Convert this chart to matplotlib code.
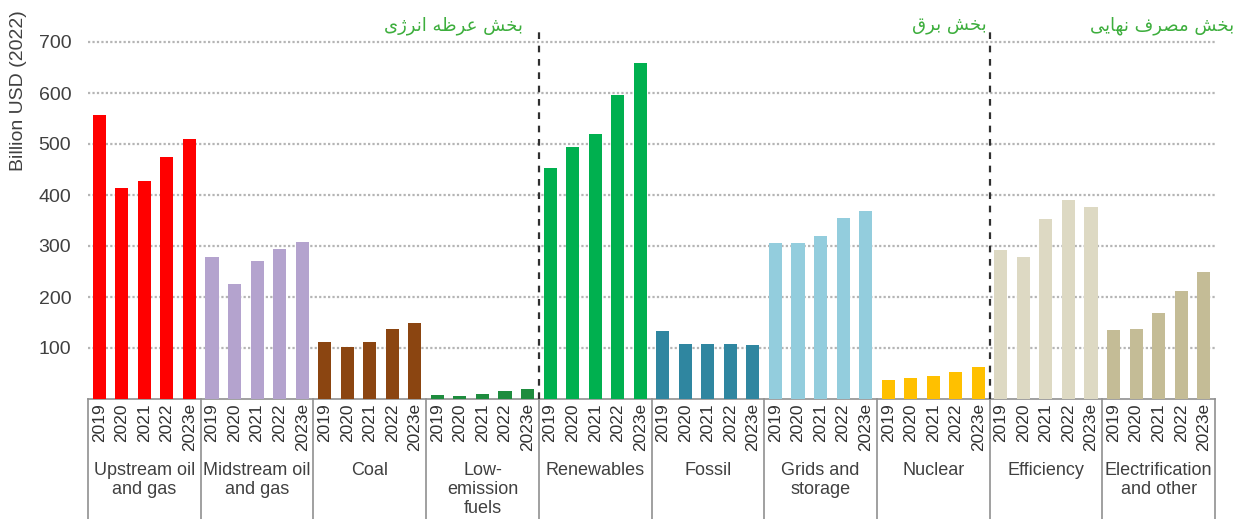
import matplotlib
matplotlib.use("Agg")
import matplotlib.pyplot as plt
from matplotlib.transforms import blended_transform_factory
from matplotlib.lines import Line2D

# investment by segment, billion USD (2022)
years = ["2019", "2020", "2021", "2022", "2023e"]
groups = ["Upstream oil\nand gas", "Midstream oil\nand gas", "Coal", "Low-\nemission\nfuels",
          "Renewables", "Fossil", "Grids and\nstorage", "Nuclear", "Efficiency",
          "Electrification\nand other"]
upstream = [556, 413, 428, 475, 509]
midstream = [279, 226, 271, 295, 308]
coal = [112, 102, 112, 137, 149]
low_emission = [8, 6, 10, 16, 20]
renewables = [452, 495, 519, 597, 658]
fossil = [134, 108, 108, 108, 106]
grids = [306, 305, 320, 354, 369]
nuclear = [37, 41, 45, 53, 63]
efficiency = [293, 279, 352, 391, 377]
electrification = [136, 137, 169, 212, 250]
series = [upstream, midstream, coal, low_emission, renewables,
          fossil, grids, nuclear, efficiency, electrification]
colors = ["#FF0000", "#B4A3CE", "#8B4511", "#1E8C3E", "#00B04F",
          "#2F86A0", "#93CDDD", "#FFC000", "#DDD9C3", "#C4BC96"]

# section titles, shaped with presentation forms (logical order, reversed for display)
supply_title = "\uFE91\uFEA8\uFEB6 \uFECB\uFEAE\uFEC7\uFEEA \uFE8D\uFEE7\uFEAE\uFB8A\uFBFC"
power_title = "\uFE91\uFEA8\uFEB6 \uFE91\uFEAE\uFED5"
enduse_title = "\uFE91\uFEA8\uFEB6 \uFEE3\uFEBC\uFEAE\uFED1 \uFEE7\uFEEC\uFE8E\uFBFE\uFBFD"

W, H = 1241, 519
fig = plt.figure(figsize=(W / 100, H / 100), dpi=100)
ax = fig.add_axes([88 / W, 1 - 399 / H, (1215 - 88) / W, (399 - 31.8) / H])

n = len(years)
for g, vals in enumerate(series):
    xs = [g * n + i for i in range(n)]
    ax.bar(xs, vals, width=0.58, color=colors[g], zorder=3)

ax.set_xlim(-0.5, len(groups) * n - 0.5)
ax.set_ylim(0, 720)
ax.set_yticks(range(100, 701, 100))
ax.set_yticklabels([str(v) for v in range(100, 701, 100)],
                   fontsize=14, color="#404040", family="Liberation Sans")
ax.tick_params(axis="y", length=0, pad=12)
ax.set_xticks([])
ax.yaxis.grid(True, linestyle=(0, (1, 1)), color="#b5b5b5", linewidth=1.6, zorder=0)
for s in ["top", "right", "left"]:
    ax.spines[s].set_visible(False)
ax.spines["bottom"].set_color("#909090")
ax.spines["bottom"].set_linewidth(1.2)

ax.set_ylabel("Billion USD (2022)", fontsize=14, color="#404040",
              family="Liberation Sans")
ax.yaxis.set_label_coords(-61 / (1215 - 88), 0.84)

trans = blended_transform_factory(ax.transData, fig.transFigure)

# boxes under the axis: separators, year labels, group names
for g in range(len(groups) + 1):
    x = g * n - 0.5
    ax.add_line(Line2D([x, x], [0, 1 - 399 / H], transform=trans, color="#909090",
                       linewidth=1.2, clip_on=False))
for g, name in enumerate(groups):
    for i, yr in enumerate(years):
        ax.text(g * n + i, 1 - 403 / H, yr, transform=trans, rotation=90,
                ha="center", va="top", fontsize=12.5, color="#303030",
                family="Liberation Sans")
    ax.text(g * n + 2, 1 - 462 / H, name, transform=trans, ha="center", va="top",
            fontsize=13, color="#404040", family="Liberation Sans", linespacing=1.15)

# dashed dividers between sections
for x in [4 * n - 0.5, 8 * n - 0.5]:
    ax.plot([x, x], [0, 720], color="#303030", linestyle=(0, (3, 3)),
            linewidth=1.6, zorder=4, clip_on=False)

green = "#3DAE3D"
for x, t in [(19.5 - 0.7, supply_title), (39.5 - 0.15, power_title),
             (50.35, enduse_title)]:
    ax.text(x, 1 - 26 / H, t[::-1], transform=trans, ha="right", va="center",
            fontsize=13, color=green, family="DejaVu Sans")

fig.savefig("out.png", dpi=100)
